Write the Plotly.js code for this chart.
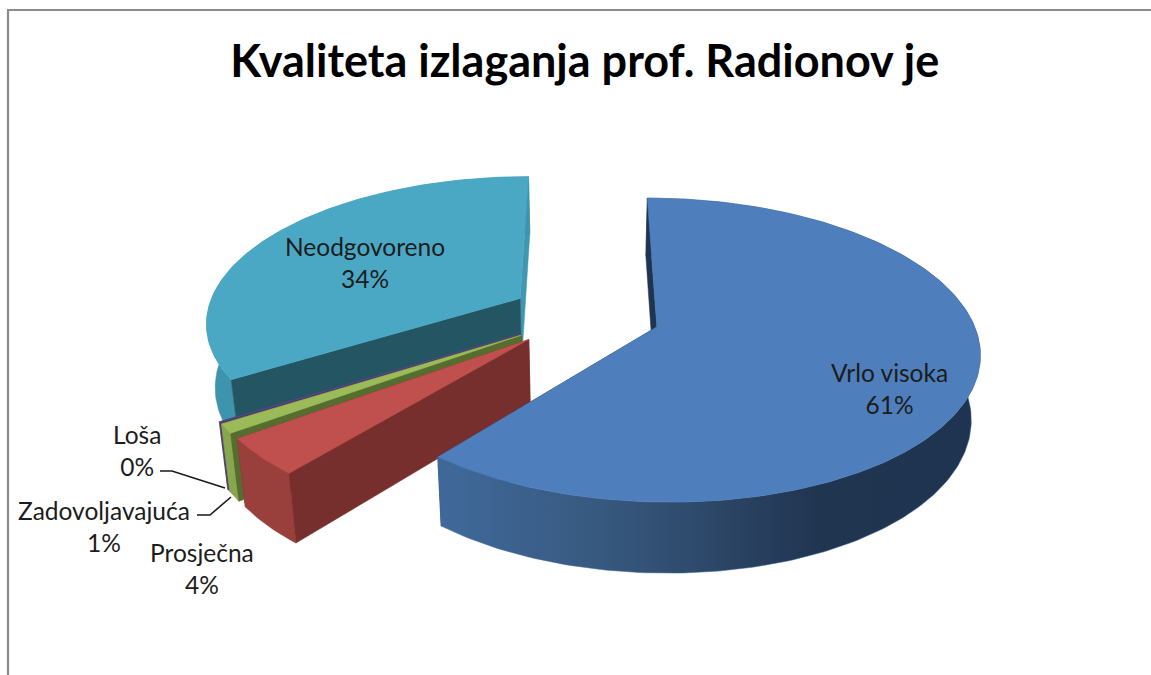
<!DOCTYPE html>
<html>
<head>
<meta charset="utf-8">
<script src="https://cdn.plot.ly/plotly-3.0.1.min.js"></script>
<style>html,body{margin:0;padding:0;background:#fff;overflow:hidden}#chart{width:1151px;height:675px}</style>
</head>
<body>
<div id="chart"></div>
<script>
// ---- data ----
const categories = ["Vrlo visoka", "Prosječna", "Zadovoljavajuća", "Loša", "Neodgovoreno"];
const values = [61, 4, 1, 0.1, 34];
const chartTitle = "Kvaliteta izlaganja prof. Radionov je";

// ---- styles, one entry per category ----
const topColors  = ["#4e7ebb", "#bf504d", "#9bbb59", "#5d4a88", "#4aa8c5"];
const arcColors  = ["#3f679a", "#9a403c", "#88a64e", "#5d4a88", "#3e93ad"];
const startWall  = ["#1f3450", "#772f2d", "#566d30", "#4a3a6c", "#235563"];
const endWall    = ["#1f3450", "#772f2d", "#566d30", "#4a3a6c", "#3f97b0"];
const blueWallGradient = [[0,"#40699b"],[0.3,"#37597f"],[0.55,"#2a4363"],[0.7,"#203550"],[1,"#1f3450"]];
const drawOrder = [4, 3, 2, 1, 0];
const labelX = [889, 202, 104, 137, 365];
const labelY = [388, 568, 526, 450, 262];

// ---- projection of the pie (disc coordinates to the page scale) ----
const X0 = 585, Y0 = 315, S = 314, A = 144.9, P = 0.151;
const EXPLODE = 0.24, DEPTH = 63, SHRINK = 0.977;
const project = (u, v) => { const w = 1 - P * v; return [X0 + S * u / w, Y0 + A * v / w, w]; };
const lower = ([x, y, w]) => [X0 + (x - X0) * SHRINK, Y0 + (y - Y0) * SHRINK + DEPTH / w];
const rad = d => d * Math.PI / 180;

const total = values.reduce((a, b) => a + b, 0);
const slices = [];
let running = 0;
values.forEach((val) => {
  const a0 = running / total * 360;
  running += val;
  const a1 = running / total * 360;
  const mid = rad((a0 + a1) / 2);
  const ax = EXPLODE * Math.sin(mid), ay = -EXPLODE * Math.cos(mid);
  const arc = [];
  const n = Math.max(2, Math.ceil(a1 - a0));
  for (let i = 0; i <= n; i++) {
    const t = rad(a0 + (a1 - a0) * i / n);
    arc.push(project(ax + Math.sin(t), ay - Math.cos(t)));
  }
  slices.push({apex: project(ax, ay), arc});
});

const poly = (pts, color, name, extra) => Object.assign({
  type: "scatter", mode: "lines", x: pts.map(p => p[0]), y: pts.map(p => p[1]),
  fill: "toself", fillcolor: color, line: {color, width: 0.5}, name,
  hoverinfo: "name", showlegend: false
}, extra || {});

const traces = [];
drawOrder.forEach(i => {
  const s = slices[i], first = s.arc[0], last = s.arc[s.arc.length - 1], name = categories[i];
  traces.push(poly([s.apex, last, lower(last), lower(s.apex), s.apex], endWall[i], name));
  const arcWall = s.arc.concat(s.arc.slice().reverse().map(lower));
  arcWall.push(s.arc[0]);
  const extra = i === 0 ? {fillgradient: {type: "horizontal", colorscale: blueWallGradient}} : {};
  traces.push(poly(arcWall, arcColors[i], name, extra));
  traces.push(poly([s.apex, first, lower(first), lower(s.apex), s.apex], startWall[i], name));
  traces.push(poly([s.apex].concat(s.arc, [s.apex]), topColors[i], name));
});

const annotations = categories.map((c, i) => ({
  x: labelX[i], y: labelY[i], xref: "x", yref: "y", showarrow: false,
  text: c + "<br>" + Math.round(values[i] / total * 100) + "%",
  align: "center", xanchor: "center", yanchor: "middle",
  font: {family: "Lato, Carlito, sans-serif", size: 24.5, color: "#1c1c1c"}
}));

const layout = {
  width: 1151, height: 675, margin: {l: 0, r: 0, t: 0, b: 0, pad: 0},
  paper_bgcolor: "#fff", plot_bgcolor: "#fff", showlegend: false,
  title: {text: "<b>" + chartTitle + "</b>", x: 0.508, xanchor: "center", y: 0.91, yanchor: "middle",
          font: {family: "Lato, Carlito, sans-serif", size: 45, color: "#000"}},
  xaxis: {range: [0, 1151], visible: false, fixedrange: true},
  yaxis: {range: [675, 0], visible: false, fixedrange: true},
  annotations,
  shapes: [
    {type: "path", path: "M8,675 L8,10 L1151,10", xref: "x", yref: "y", line: {color: "#8c8c8c", width: 2.2}},
    {type: "path", path: "M160,471 L172,471 L225,488", xref: "x", yref: "y", line: {color: "#1a1a1a", width: 1.6}},
    {type: "path", path: "M197,515 L210,515 L231,497", xref: "x", yref: "y", line: {color: "#1a1a1a", width: 1.6}}
  ]
};
Plotly.newPlot("chart", traces, layout, {displayModeBar: false, staticPlot: true});
</script>
</body>
</html>
